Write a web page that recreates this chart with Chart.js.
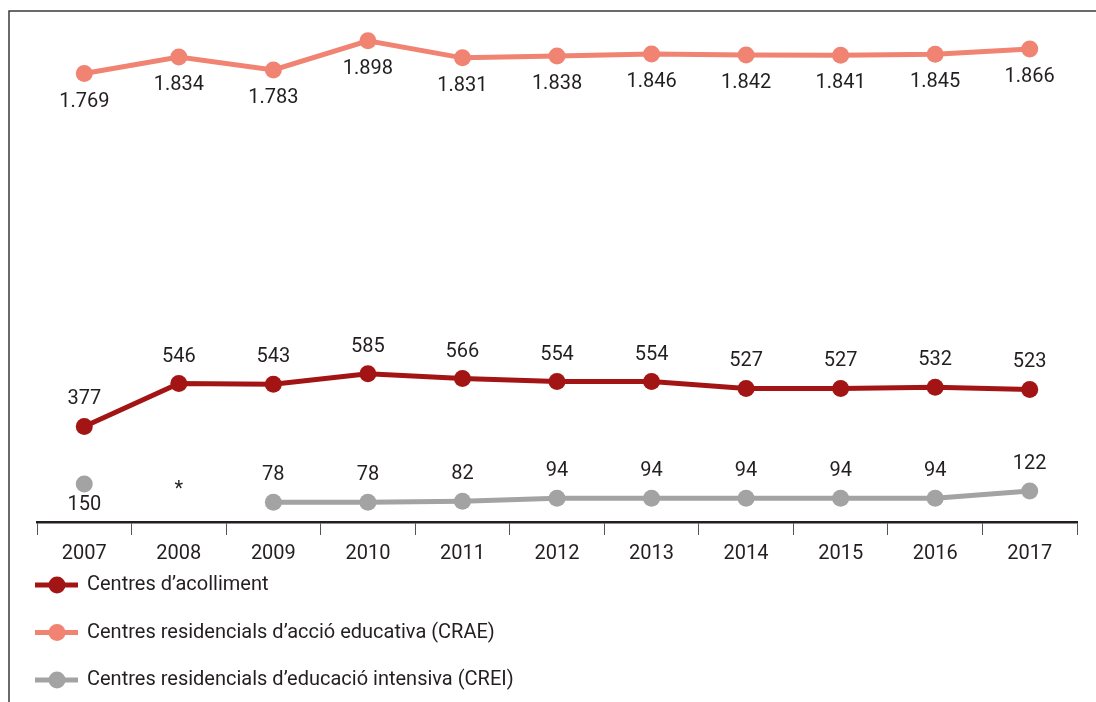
<!DOCTYPE html>
<html>
<head>
<meta charset="utf-8">
<script src="https://cdn.jsdelivr.net/npm/chart.js@4"></script>
<style>
  body { margin: 0; background: #fff; }
  canvas { display: block; }
</style>
</head>
<body>
<canvas id="chart" width="1096" height="702"></canvas>
<script>
const years = ['2007', '2008', '2009', '2010', '2011', '2012', '2013', '2014', '2015', '2016', '2017'];
const acolliment = [377, 546, 543, 585, 566, 554, 554, 527, 527, 532, 523];
const crae = [1769, 1834, 1783, 1898, 1831, 1838, 1846, 1842, 1841, 1845, 1866];
const crei = [150, null, 78, 78, 82, 94, 94, 94, 94, 94, 122];

const textColor = '#231f20';
const fontFamily = 'Roboto, "Noto Sans", sans-serif';

function formatNumber(v) {
    return String(v).replace(/\B(?=(\d{3})+(?!\d))/g, '.');
}

// frame lines (left + top)
const framePlugin = {
    id: 'frame',
    beforeDraw(chart) {
        const ctx = chart.ctx;
        ctx.save();
        ctx.strokeStyle = '#3a3a3a';
        ctx.lineWidth = 1.5;
        ctx.beginPath();
        ctx.moveTo(9, chart.height);
        ctx.lineTo(9, 11);
        ctx.lineTo(chart.width, 11);
        ctx.stroke();
        ctx.restore();
    }
};

// value labels next to the points
const valueLabels = {
    id: 'valueLabels',
    afterDatasetsDraw(chart) {
        const ctx = chart.ctx;
        const yScale = chart.scales.y;
        ctx.save();
        ctx.font = '20px ' + fontFamily;
        ctx.fillStyle = textColor;
        ctx.textAlign = 'center';
        ctx.textBaseline = 'middle';
        chart.data.datasets.forEach((ds, i) => {
            const meta = chart.getDatasetMeta(i);
            meta.data.forEach((pt, j) => {
                const v = ds.data[j];
                if (v === null) {
                    ctx.fillText('*', pt.x, yScale.getPixelForValue(0) - 32);
                    return;
                }
                let dy = ds.labelBelow ? 28 : -27;
                if (ds.key === 'crei' && j === 0) dy = 21;
                ctx.fillText(formatNumber(v), pt.x, pt.y + dy);
            });
        });
        ctx.restore();
    }
};

// vertical legend under the axis
const sideLegend = {
    id: 'sideLegend',
    afterDraw(chart) {
        const ctx = chart.ctx;
        ctx.save();
        ctx.font = '20px ' + fontFamily;
        ctx.textBaseline = 'middle';
        chart.data.datasets.forEach((ds, i) => {
            const y = 585 + i * 47.5;
            ctx.strokeStyle = ds.borderColor;
            ctx.lineWidth = 5;
            ctx.beginPath();
            ctx.moveTo(35, y);
            ctx.lineTo(78, y);
            ctx.stroke();
            ctx.fillStyle = ds.backgroundColor;
            ctx.beginPath();
            ctx.arc(57, y, 8.5, 0, Math.PI * 2);
            ctx.fill();
            ctx.fillStyle = textColor;
            ctx.fillText(ds.label, 87, y);
        });
        ctx.restore();
    }
};

new Chart(document.getElementById('chart'), {
    type: 'line',
    data: {
        labels: years,
        datasets: [{
            key: 'acolliment',
            label: 'Centres d\u2019acolliment',
            data: acolliment,
            borderColor: '#a31515',
            backgroundColor: '#a31515',
            labelBelow: false
        }, {
            key: 'crae',
            label: 'Centres residencials d\u2019acci\u00f3 educativa (CRAE)',
            data: crae,
            borderColor: '#f08372',
            backgroundColor: '#f08372',
            labelBelow: true
        }, {
            key: 'crei',
            label: 'Centres residencials d\u2019educaci\u00f3 intensiva (CREI)',
            data: crei,
            borderColor: '#a3a3a3',
            backgroundColor: '#a3a3a3',
            labelBelow: false
        }]
    },
    options: {
        responsive: false,
        animation: false,
        layout: {
            padding: { left: 37, right: 19, top: 15, bottom: 129 }
        },
        elements: {
            line: { borderWidth: 5, tension: 0 },
            point: { radius: 8.5, borderWidth: 0, hoverRadius: 8.5 }
        },
        plugins: {
            legend: { display: false },
            tooltip: { enabled: false }
        },
        scales: {
            x: {
                offset: true,
                border: { display: true, color: '#231f20', width: 2.5 },
                grid: {
                    offset: true,
                    drawOnChartArea: false,
                    drawTicks: true,
                    tickLength: 13,
                    color: '#555'
                },
                ticks: {
                    color: textColor,
                    padding: 7,
                    font: { family: fontFamily, size: 20 }
                }
            },
            y: {
                display: false,
                min: 0,
                max: 2000
            }
        }
    },
    plugins: [framePlugin, valueLabels, sideLegend]
});
</script>
</body>
</html>
